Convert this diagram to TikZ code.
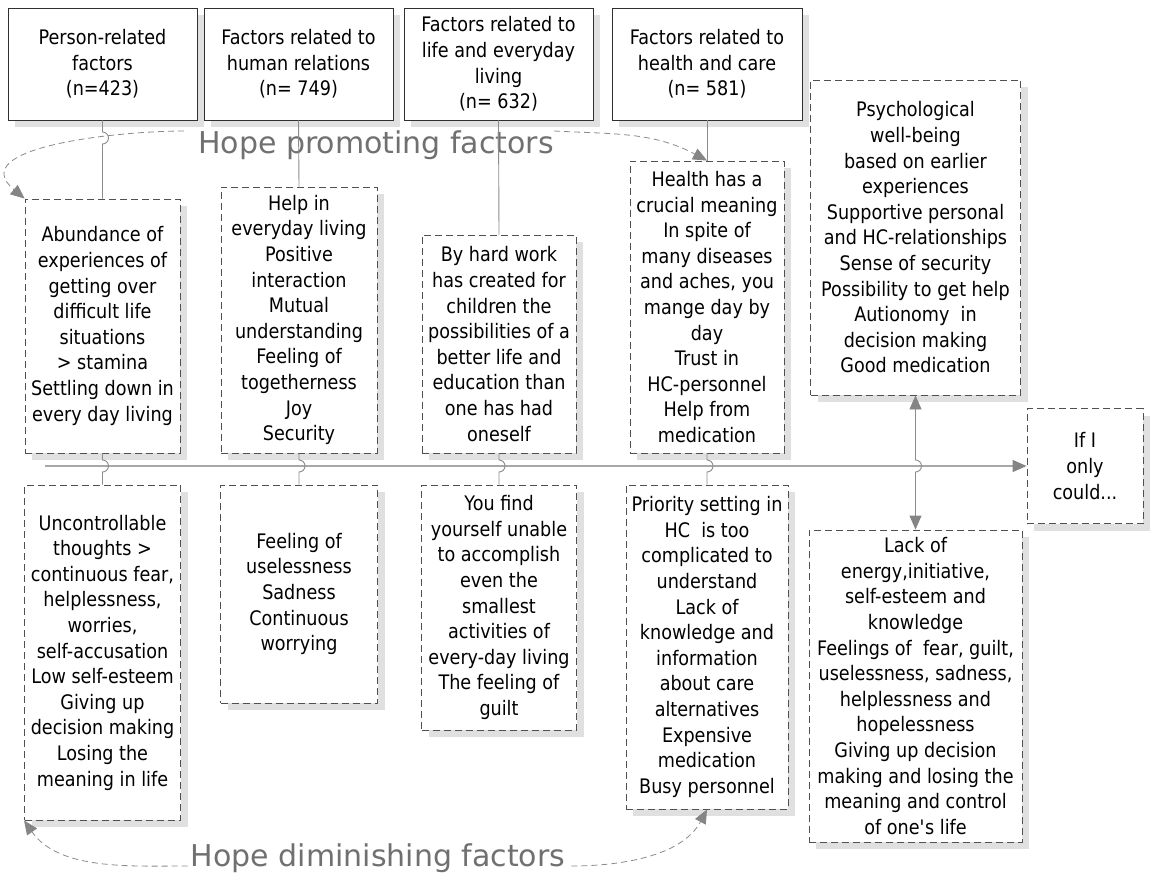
\documentclass[tikz,border=0pt]{standalone}
\usepackage{fontspec}
\setmainfont{DejaVu Sans}[FakeStretch=0.88]
\newfontfamily\labelfont{DejaVu Sans}
\usetikzlibrary{arrows.meta,shadows,calc}

\definecolor{shadowgray}{HTML}{E0E0E0}
\definecolor{framegray}{HTML}{505050}
\definecolor{headframe}{HTML}{303030}
\definecolor{linkgray}{HTML}{8C8C8C}
\definecolor{axisgray}{HTML}{A8A8A8}
\definecolor{tipgray}{HTML}{858585}
\definecolor{labelgray}{HTML}{707070}
\definecolor{arcgray}{HTML}{8A8A8A}

\tikzset{
  every node/.style={font=\fontsize{20}{25.6}\selectfont, align=center},
  shadowed/.style={general shadow={fill=shadowgray, shadow xshift=7pt, shadow yshift=-7pt}},
  headbox/.style={shadowed, draw=headframe, line width=0.9pt, fill=white, inner sep=0pt},
  factorbox/.style={shadowed, draw=framegray, dash pattern=on 7pt off 4pt, line width=0.9pt, fill=white, inner sep=0pt},
  hopelabel/.style={font=\labelfont\fontsize{30}{36}\selectfont, text=labelgray, inner sep=0pt},
  link/.style={draw=linkgray, line width=0.9pt},
  axis/.style={draw=axisgray, line width=1.6pt},
  tiphead/.style={-{Triangle[length=14pt,width=12pt,color=tipgray]}},
  tipboth/.style={{Triangle[length=14pt,width=12pt,color=tipgray]}-{Triangle[length=14pt,width=12pt,color=tipgray]}},
  flow/.style={draw=arcgray, line width=0.8pt, dash pattern=on 6pt off 4pt},
}

% vertical link from #2 down to #3, jumping over the horizontal through #4
\newcommand\hoplink[4][]{%
  \draw[link,#1] (#2) -- ($(#2 |- #4)+(0,-6)$)
    arc[start angle=-90, end angle=90, radius=6] -- (#2 |- #3);}

\begin{document}
\begin{tikzpicture}[x=1pt,y=-1pt]
\useasboundingbox (0,0) rectangle (1153,874);

% category headers
\node[headbox, minimum width=189pt, minimum height=112pt] (h1) at (102.5,64)
  {Person-related\\factors\\(n=423)};
\node[headbox, minimum width=189pt, minimum height=112pt] (h2) at (298.5,64)
  {Factors related to\\human relations\\(n= 749)};
\node[headbox, minimum width=189pt, minimum height=112pt] (h3) at (498.5,64)
  {Factors related to\\life and everyday\\living\\(n= 632)};
\node[headbox, minimum width=190pt, minimum height=112pt] (h4) at (707,64)
  {Factors related to\\health and care\\(n= 581)};

% hope promoting factors
\node[factorbox, minimum width=155pt, minimum height=254pt] (u1) at (102.5,326)
  {Abundance of\\experiences of\\getting over\\difficult life\\situations\\> stamina\\Settling down in\\every day living};
\node[factorbox, minimum width=156pt, minimum height=266pt] (u2) at (299,320)
  {Help in\\everyday living\\Positive\\interaction\\Mutual\\understanding\\Feeling of\\togetherness\\Joy\\Security};
\node[factorbox, minimum width=154pt, minimum height=218pt] (u3) at (499,344)
  {By hard work\\has created for\\children the\\possibilities of a\\better life and\\education than\\one has had\\oneself};
\node[factorbox, minimum width=154pt, minimum height=292pt] (u4) at (707,307)
  {Health has a\\crucial meaning\\In spite of\\many diseases\\and aches, you\\mange day by\\day\\Trust in\\HC-personnel\\Help from\\medication};
\node[factorbox, minimum width=210pt, minimum height=315pt] (r1) at (915.5,237.5)
  {Psychological\\well-being\\based on earlier\\experiences\\Supportive personal\\and HC-relationships\\Sense of security\\Possibility to get help\\Autionomy~ in\\decision making\\Good medication};

% hope diminishing factors
\node[factorbox, minimum width=156pt, minimum height=335pt] (l1) at (102.5,652.5)
  {Uncontrollable\\thoughts >\\continuous fear,\\helplessness,\\worries,\\self-accusation\\Low self-esteem\\Giving up\\decision making\\Losing the\\meaning in life};
\node[factorbox, minimum width=157pt, minimum height=218pt] (l2) at (299,594)
  {Feeling of\\uselessness\\Sadness\\Continuous\\worrying};
\node[factorbox, minimum width=155pt, minimum height=245pt] (l3) at (499,607.5)
  {You find\\yourself unable\\to accomplish\\even the\\smallest\\activities of\\every-day living\\The feeling of\\guilt};
\node[factorbox, minimum width=162pt, minimum height=324pt] (l4) at (707,647)
  {Priority setting in\\HC~ is too\\complicated to\\understand\\Lack of\\knowledge and\\information\\about care\\alternatives\\Expensive\\medication\\Busy personnel};
\node[factorbox, minimum width=213pt, minimum height=312pt] (l5) at (915.5,686)
  {Lack of\\energy,initiative,\\self-esteem and\\knowledge\\Feelings of~ fear, guilt,\\uselessness, sadness,\\helplessness and\\hopelessness\\Giving up decision\\making and losing the\\meaning and control\\of one\textquotesingle s life};

% outcome
\node[factorbox, minimum width=116pt, minimum height=115pt] (goal) at (1085,466)
  {If I\\only\\could...};

% group labels
\node[hopelabel, anchor=base] (promo) at (376,154) {Hope promoting factors};
\node[hopelabel, anchor=base] (dimin) at (378,866) {Hope diminishing factors};

% main axis
\coordinate (axisstart) at (45,466);
\coordinate (arcline) at (0,138);
\draw[axis, tiphead] (axisstart) -- (goal.west);

% headers to promoting factors
\hoplink{h1.south}{u1.north}{arcline}
\draw[link] (h2.south) -- (u2.north);
\draw[link] (h3.south) -- (u3.north);
\draw[link] (h4.south) -- (u4.north);

% promoting to diminishing factors, across the axis
\hoplink{u1.south}{l1.north}{axisstart}
\hoplink{u2.south}{l2.north}{axisstart}
\hoplink{u3.south}{l3.north}{axisstart}
\hoplink{u4.south}{l4.north}{axisstart}
\hoplink[tipboth]{r1.south}{l5.north}{axisstart}

% curved group arrows
\draw[flow, tiphead, shorten <=14pt] (promo.north west)
  to[out=180, in=140, looseness=1.1] (u1.north west);
\draw[flow, tiphead] (promo.north east)
  to[out=-3, in=152] (u4.north);
\draw[flow, tiphead, shorten <=3pt] (dimin.base west)
  to[out=180, in=-55, looseness=0.9] (l1.south west);
\draw[flow, tiphead, shorten <=6pt] (dimin.base east)
  to[out=0, in=-118, looseness=0.9] (l4.south);
\end{tikzpicture}
\end{document}
